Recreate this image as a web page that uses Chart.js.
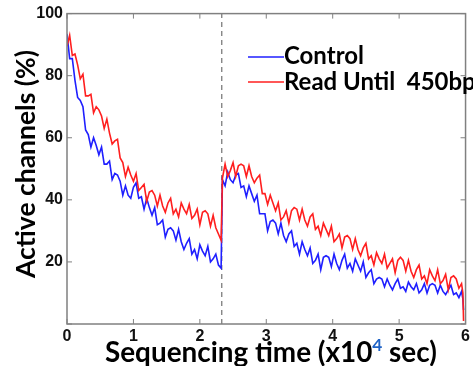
<!DOCTYPE html>
<html>
<head>
<meta charset="utf-8">
<script src="https://cdn.jsdelivr.net/npm/chart.js@4.4.1/dist/chart.umd.min.js"></script>
<style>
  body { margin: 0; background: #fff; }
  #wrap { width: 473px; height: 366px; }
</style>
</head>
<body>
<div id="wrap"><canvas id="chart" width="473" height="366"></canvas></div>
<script>
// time in units of 10^4 sec
const timeSec = [
  0,0.04,0.08,0.12,0.16,0.2,0.24,0.28,0.32,0.36,0.4,0.44,0.48,0.52,0.56,0.6,0.64,0.68,0.72,0.76,
  0.8,0.84,0.88,0.92,0.96,1,1.04,1.08,1.12,1.16,1.2,1.24,1.28,1.32,1.36,1.4,1.44,1.48,1.52,1.56,
  1.6,1.64,1.68,1.72,1.76,1.8,1.84,1.88,1.92,1.96,2,2.04,2.08,2.12,2.16,2.2,2.24,2.28,2.32,
  2.34,2.38,2.42,2.46,2.5,2.54,2.58,2.62,2.66,2.7,2.74,2.78,2.82,2.86,2.9,2.94,2.98,3.02,3.06,3.1,
  3.14,3.18,3.22,3.26,3.3,3.34,3.38,3.42,3.46,3.5,3.54,3.58,3.62,3.66,3.7,3.74,3.78,3.82,3.86,3.9,
  3.94,3.98,4.02,4.06,4.1,4.14,4.18,4.22,4.26,4.3,4.34,4.38,4.42,4.46,4.5,4.54,4.58,4.62,4.66,4.7,
  4.74,4.78,4.82,4.86,4.9,4.94,4.98,5.02,5.06,5.1,5.14,5.18,5.22,5.26,5.3,5.34,5.38,5.42,5.46,5.5,
  5.54,5.58,5.62,5.66,5.7,5.74,5.78,5.82,5.86,5.9,5.94,5.96,5.97
];

// active channels (%)
const control = [
  93.5,85.5,85.5,78.5,73,72,70,62.5,61,57,60,57.5,54.5,57,51.5,51.5,52.5,46.5,48.5,48,
  46,41.5,44.5,41.5,40.5,44,45.5,40.5,41,37,40.5,37.5,35,37.5,32,32.5,33.5,28,30.5,31,
  30,27,30.5,26.5,24,26,27.5,22.5,24,21,25.5,23.5,22,25,20,21,22.5,19,18,
  46.5,44.5,49,46.5,45.5,48,48.5,44,44.5,41,44.5,42,39.5,41.5,35.5,35.5,35.5,30,33,33.5,
  32.5,29,32.5,28.5,26.5,29,30,25,26,22.5,26.5,24,22,24.5,19.5,20.5,22.5,17.5,21.5,22,
  21.5,18.5,22.5,19.5,17.5,20.5,22.5,18,19.5,17,21,19,17,20,15,16.5,17.5,13,14.5,15,
  14.5,12,14.5,12.5,11,13,14.5,11.5,12,10.5,13.5,12,11,13,10,11,13,10,12.5,13,
  12.5,10,12.5,10.5,9.5,11,12.5,9.5,10,8.5,10.5,8,4.5
];

const readUntil = [
  89.5,93,86.5,87,83.5,79,80.5,73.5,73.5,74,68,70,69,67,63,66,61.5,58,59,59.5,
  53.5,52,47.5,50.5,48,46,48.5,43,44,45,39.5,42.5,43,41.5,38,41.5,38,36,39,40.5,
  35.5,37,34.5,39,37,35.5,38.5,34,35,37,32,36,36.5,35.5,31.5,35,31,29,27,
  47,51.5,47.5,49.5,52,47.5,51,51.5,51,47.5,51,47.5,45.5,47,48,42,42,38.5,41.5,39,
  36.5,39,33.5,34.5,36.5,32.5,36.5,37.5,37,33.5,37,33.5,31.5,34.5,35.5,30.5,31.5,28.5,32.5,30.5,
  28.5,31.5,26.5,27.5,29,24.5,28,28.5,27.5,24,27.5,24,22,24.5,26,21,22,19,23,21,
  19.5,22.5,18,19.5,21,16.5,20.5,21.5,20.5,17,20.5,17,15,17.5,19,14.5,15.5,13,17.5,15.5,
  14,17.5,13,14,16,11,15,15.5,14.5,11.5,13,10,1
];

// time where the Read Until run was switched
const switchTime = 2.33;

const seriesNames = ['Control', 'Read Until  450bp'];
const blue = '#1f1fff';
const red = '#ff1f1f';
const TITLE_FONT = 'Lato, "Open Sans", sans-serif';

function fitSize(ctx, text, width) {
  ctx.font = 'bold 100px ' + TITLE_FONT;
  return 100 * width / ctx.measureText(text).width;
}

const frame = {
  id: 'frame',
  afterDraw(chart) {
    const { ctx, chartArea: a, scales } = chart;
    ctx.save();
    // box + inward ticks
    ctx.strokeStyle = '#808080';
    ctx.lineWidth = 1.5;
    ctx.strokeRect(a.left, a.top, a.right - a.left, a.bottom - a.top);
    ctx.lineWidth = 1;
    ctx.beginPath();
    scales.x.ticks.forEach(t => {
      const px = scales.x.getPixelForValue(t.value);
      ctx.moveTo(px, a.bottom); ctx.lineTo(px, a.bottom - 5);
      ctx.moveTo(px, a.top); ctx.lineTo(px, a.top + 5);
    });
    scales.y.ticks.forEach(t => {
      const py = scales.y.getPixelForValue(t.value);
      ctx.moveTo(a.left, py); ctx.lineTo(a.left + 5, py);
      ctx.moveTo(a.right, py); ctx.lineTo(a.right - 5, py);
    });
    ctx.stroke();

    // legend
    const legSize = fitSize(ctx, 'Control', 80);
    ctx.font = 'bold ' + legSize + 'px ' + TITLE_FONT;
    ctx.fillStyle = '#000';
    ctx.textAlign = 'left';
    ctx.textBaseline = 'alphabetic';
    [[blue, 57, 64], [red, 82, 90]].forEach(([col, ly, ty], i) => {
      ctx.strokeStyle = col;
      ctx.lineWidth = 1.5;
      ctx.beginPath();
      ctx.moveTo(248, ly); ctx.lineTo(284, ly);
      ctx.stroke();
      ctx.fillText(seriesNames[i], 284, ty);
    });

    // x title with superscript
    const p1 = 'Sequencing time (x10', p2 = '4', p3 = ' sec)';
    const s = fitSize(ctx, p1 + p3, 322);
    ctx.font = 'bold ' + s + 'px ' + TITLE_FONT;
    const w1 = ctx.measureText(p1).width;
    const x0 = 105;
    ctx.fillStyle = '#000';
    ctx.fillText(p1, x0, 362);
    ctx.font = 'bold ' + (s * 0.62) + 'px ' + TITLE_FONT;
    const w2 = ctx.measureText(p2).width;
    ctx.fillStyle = '#1f63c6';
    ctx.fillText(p2, x0 + w1, 362 - s * 0.38);
    ctx.font = 'bold ' + s + 'px ' + TITLE_FONT;
    ctx.fillStyle = '#000';
    ctx.fillText(p3, x0 + w1 + w2, 362);

    // y title
    const ys = fitSize(ctx, 'Active channels (%)', 228);
    ctx.font = 'bold ' + ys + 'px ' + TITLE_FONT;
    ctx.translate(35, 164);
    ctx.rotate(-Math.PI / 2);
    ctx.textAlign = 'center';
    ctx.fillText('Active channels (%)', 0, 0);
    ctx.restore();
  }
};

const ctx = document.getElementById('chart').getContext('2d');
new Chart(ctx, {
  type: 'line',
  data: {
    datasets: [
      {
        label: seriesNames[1],
        data: timeSec.map((t, i) => ({ x: t, y: readUntil[i] })),
        borderColor: red,
        borderWidth: 1.6,
        pointRadius: 0,
        tension: 0
      },
      {
        label: seriesNames[0],
        data: timeSec.map((t, i) => ({ x: t, y: control[i] })),
        borderColor: blue,
        borderWidth: 1.6,
        pointRadius: 0,
        tension: 0
      },
      {
        label: 'switch',
        data: [{ x: switchTime, y: 0 }, { x: switchTime, y: 100 }],
        borderColor: '#707070',
        borderWidth: 1.2,
        borderDash: [5, 4],
        pointRadius: 0
      }
    ]
  },
  options: {
    responsive: false,
    animation: false,
    layout: { padding: { top: 10, right: 2, left: 0, bottom: 0 } },
    plugins: {
      legend: { display: false },
      tooltip: { enabled: false }
    },
    scales: {
      x: {
        type: 'linear',
        min: 0,
        max: 6,
        grid: { display: false, drawTicks: false },
        border: { display: false },
        ticks: {
          stepSize: 1,
          padding: 3,
          color: '#111',
          font: { family: '"Liberation Sans", Arial, sans-serif', weight: 'bold', size: 16 }
        },
        afterFit(scale) { scale.height = 42; }
      },
      y: {
        min: 0,
        max: 100,
        grid: { display: false, drawTicks: false },
        border: { display: false },
        ticks: {
          stepSize: 20,
          padding: 4,
          color: '#111',
          callback: v => (v === 0 ? '' : v),
          font: { family: '"Liberation Sans", Arial, sans-serif', weight: 'bold', size: 16 }
        },
        afterFit(scale) { scale.width = 67; }
      }
    }
  },
  plugins: [frame]
});
</script>
</body>
</html>
